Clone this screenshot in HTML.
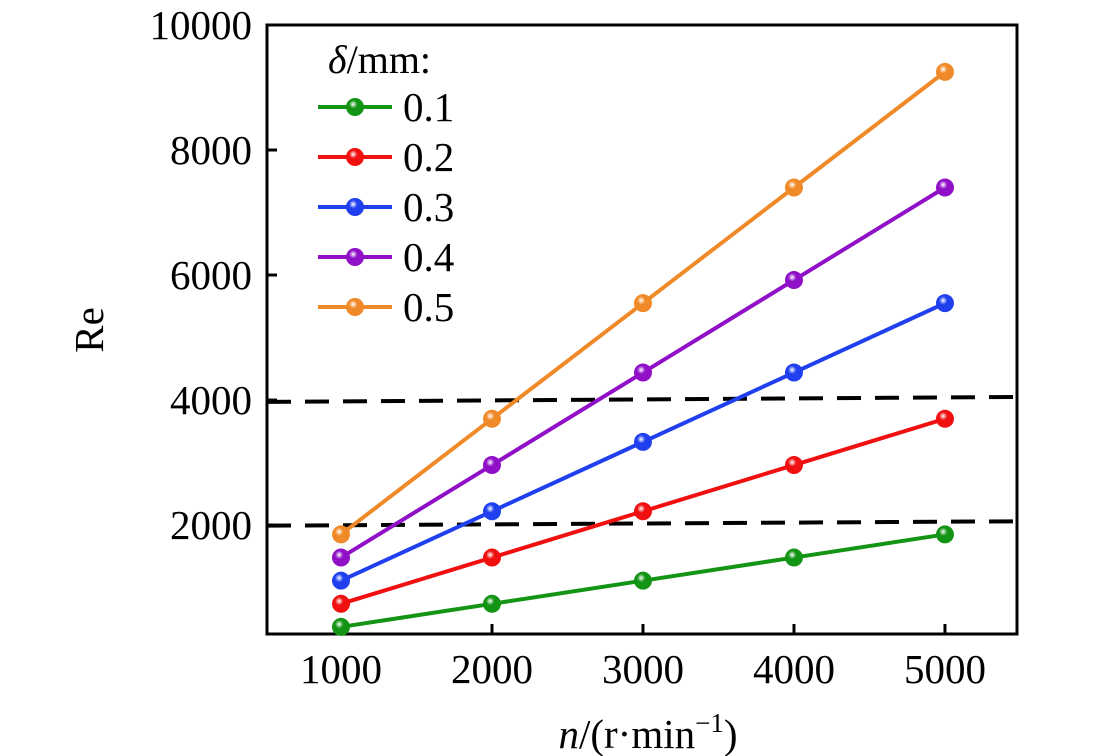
<!DOCTYPE html>
<html><head><meta charset="utf-8"><style>
html,body{margin:0;padding:0;background:#fff;}
svg{display:block;font-family:"Liberation Serif",serif;}
</style></head><body>
<svg id="chart" width="1102" height="756" viewBox="0 0 1102 756">
<defs id="defs"></defs>
<g id="plot"></g>
</svg>
<script>
const categories=[1000,2000,3000,4000,5000];
const seriesLabels=["0.1","0.2","0.3","0.4","0.5"];
const s01=[370,740,1110,1480,1850];
const s02=[740,1480,2220,2960,3700];
const s03=[1110,2220,3330,4440,5550];
const s04=[1480,2960,4440,5920,7400];
const s05=[1850,3700,5550,7400,9250];
const yTicks=[2000,4000,6000,8000,10000];
const xTicks=[1000,2000,3000,4000,5000];
const dashUpper=[3970,4050];
const dashLower=[1990,2060];
const colors=["#149414","#f01010","#2040f0","#9010c8","#f08a28"];
const allSeries=[s01,s02,s03,s04,s05];

const L=267,R=1017,T=25,B=634;
const xMin=510,xMax=5477,yMin=257,yMax=10000;
const X=v=>L+(v-xMin)/(xMax-xMin)*(R-L);
const Y=v=>B-(v-yMin)/(yMax-yMin)*(B-T);
const NS="http://www.w3.org/2000/svg";
const g=document.getElementById('plot');
const defs=document.getElementById('defs');
function mk(tag,attrs,parent){const e=document.createElementNS(NS,tag);for(const k in attrs)e.setAttribute(k,attrs[k]);(parent||g).appendChild(e);return e;}

colors.forEach((c,i)=>{
  const rg=mk('radialGradient',{id:'grad'+i,cx:'0.4',cy:'0.35',r:'0.65'},defs);
  mk('stop',{offset:'0','stop-color':'#ffffff'},rg);
  mk('stop',{offset:'0.35','stop-color':c},rg);
  mk('stop',{offset:'1','stop-color':c},rg);
});

[dashUpper,dashLower].forEach((d,i)=>{
  const l=mk('line',{x1:L,y1:Y(d[0]),x2:R,y2:Y(d[1]),stroke:'#000','stroke-width':4,'stroke-dasharray':'24,14'});
  
  
});

const box=mk('rect',{x:L,y:T,width:R-L,height:B-T,fill:'none',stroke:'#000','stroke-width':3});



yTicks.forEach(v=>{
  const y=Y(v);
  mk('line',{x1:L,y1:y,x2:L+10,y2:y,stroke:'#000','stroke-width':3});
  const t=mk('text',{x:252,y:y+14,'text-anchor':'end','font-size':41,fill:'#000'});
  t.textContent=v;
  
  
});
xTicks.forEach(v=>{
  const x=X(v);
  mk('line',{x1:x,y1:B,x2:x,y2:B-10,stroke:'#000','stroke-width':3});
  const t=mk('text',{x:x,y:683,'text-anchor':'middle','font-size':41,fill:'#000'});
  t.textContent=v;
  
  
});

allSeries.forEach((s,i)=>{
  const pts=s.map((v,j)=>X(categories[j])+','+Y(v)).join(' ');
  const pl=mk('polyline',{points:pts,fill:'none',stroke:colors[i],'stroke-width':4});
  
  
  s.forEach((v,j)=>{
    const c=mk('circle',{cx:X(categories[j]),cy:Y(v),r:9,fill:'url(#grad'+i+')'});
    
    
  });
});

const lt=mk('text',{x:328,y:73,'font-size':40,fill:'#000'});
lt.innerHTML='<tspan font-style="italic">δ</tspan>/mm:';


seriesLabels.forEach((lab,i)=>{
  const y=107+i*50;
  const ln=mk('line',{x1:318,y1:y,x2:392,y2:y,stroke:colors[i],'stroke-width':4});
  
  
  const c=mk('circle',{cx:355,cy:y,r:9,fill:'url(#grad'+i+')'});
  
  
  const t=mk('text',{x:403,y:y+14,'font-size':41,fill:'#000'});
  t.textContent=lab;
  
  
});

const xt=mk('text',{x:648,y:748,'text-anchor':'middle','font-size':41,fill:'#000'});
xt.innerHTML='<tspan font-style="italic">n</tspan>/(r·min<tspan font-size="27" dy="-16">−1</tspan><tspan dy="16">)</tspan>';


const yt=mk('text',{x:0,y:0,'text-anchor':'middle','font-size':41,fill:'#000',transform:'translate(103,330) rotate(-90)'});
yt.textContent='Re';


</script>
</body></html>
